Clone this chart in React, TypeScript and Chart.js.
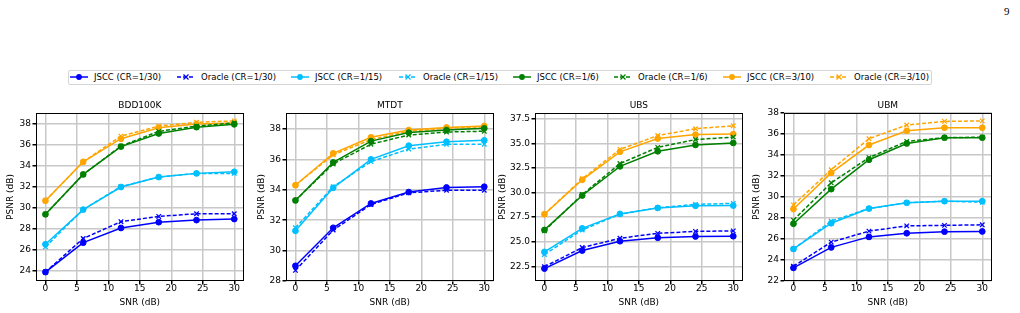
import React, { useEffect, useRef } from "react";
import { Chart, registerables } from "chart.js";
Chart.register(...registerables);

// ---------- data ----------
const snr = [0, 6, 12, 18, 24, 30];
const xTicks = [0, 5, 10, 15, 20, 25, 30];

const seriesLabels = [
  "JSCC (CR=1/30)",
  "Oracle (CR=1/30)",
  "JSCC (CR=1/15)",
  "Oracle (CR=1/15)",
  "JSCC (CR=1/6)",
  "Oracle (CR=1/6)",
  "JSCC (CR=3/10)",
  "Oracle (CR=3/10)",
];
const seriesColors = ["#0000ff", "#0000ff", "#00bfff", "#00bfff", "#008000", "#008000", "#ffa500", "#ffa500"];
const seriesIsOracle = [false, true, false, true, false, true, false, true];

// BDD100K
const bddJscc30 = [23.9, 26.7, 28.1, 28.65, 28.85, 28.95];
const bddOracle30 = [23.9, 27.1, 28.7, 29.2, 29.45, 29.45];
const bddJscc15 = [26.55, 29.85, 32.0, 32.95, 33.3, 33.45];
const bddOracle15 = [26.3, 29.85, 32.05, 32.95, 33.3, 33.3];
const bddJscc6 = [29.4, 33.2, 35.85, 37.1, 37.7, 37.97];
const bddOracle6 = [29.4, 33.2, 35.9, 37.3, 37.8, 38.1];
const bddJscc310 = [30.7, 34.4, 36.6, 37.65, 38.0, 38.1];
const bddOracle310 = [30.7, 34.4, 36.85, 37.8, 38.16, 38.3];

// MTDT
const mtdtJscc30 = [29.0, 31.5, 33.1, 33.85, 34.15, 34.2];
const mtdtOracle30 = [28.7, 31.35, 33.03, 33.8, 33.97, 33.97];
const mtdtJscc15 = [31.3, 34.13, 36.0, 36.9, 37.16, 37.25];
const mtdtOracle15 = [31.5, 34.2, 35.85, 36.68, 36.99, 37.0];
const mtdtJscc6 = [33.3, 35.8, 37.2, 37.76, 37.93, 38.04];
const mtdtOracle6 = [33.3, 35.7, 37.0, 37.6, 37.8, 37.85];
const mtdtJscc310 = [34.3, 36.4, 37.45, 37.93, 38.1, 38.2];
const mtdtOracle310 = [34.3, 36.3, 37.3, 37.85, 38.05, 38.15];

// UBS
const ubsJscc30 = [22.26, 24.1, 25.05, 25.4, 25.53, 25.56];
const ubsOracle30 = [22.45, 24.4, 25.35, 25.85, 26.05, 26.1];
const ubsJscc15 = [23.96, 26.36, 27.83, 28.44, 28.65, 28.68];
const ubsOracle15 = [23.7, 26.2, 27.8, 28.45, 28.8, 28.9];
const ubsJscc6 = [26.2, 29.7, 32.67, 34.2, 34.85, 35.05];
const ubsOracle6 = [26.1, 29.8, 32.95, 34.6, 35.4, 35.65];
const ubsJscc310 = [27.8, 31.3, 34.15, 35.5, 35.9, 35.95];
const ubsOracle310 = [27.8, 31.4, 34.4, 35.8, 36.5, 36.8];

// UBM
const ubmJscc30 = [23.25, 25.2, 26.2, 26.55, 26.7, 26.72];
const ubmOracle30 = [23.4, 25.7, 26.75, 27.25, 27.3, 27.35];
const ubmJscc15 = [25.05, 27.5, 28.9, 29.45, 29.6, 29.6];
const ubmOracle15 = [25.05, 27.7, 28.9, 29.45, 29.6, 29.5];
const ubmJscc6 = [27.45, 30.75, 33.55, 35.1, 35.65, 35.65];
const ubmOracle6 = [27.8, 31.35, 33.75, 35.3, 35.65, 35.7];
const ubmJscc310 = [28.85, 32.3, 34.95, 36.3, 36.6, 36.6];
const ubmOracle310 = [29.25, 32.6, 35.55, 36.85, 37.2, 37.25];

const panelTitles = ["BDD100K", "MTDT", "UBS", "UBM"];
const bddYTicks = [24, 26, 28, 30, 32, 34, 36, 38];
const mtdtYTicks = [28, 30, 32, 34, 36, 38];
const ubsYTicks = [22.5, 25.0, 27.5, 30.0, 32.5, 35.0, 37.5];
const ubmYTicks = [22, 24, 26, 28, 30, 32, 34, 36, 38];

const panels = [
  {
    title: panelTitles[0],
    series: [bddJscc30, bddOracle30, bddJscc15, bddOracle15, bddJscc6, bddOracle6, bddJscc310, bddOracle310],
    yMin: 23.05, yMax: 39.05, yTicks: bddYTicks, decimals: 0,
    left: 36, titleOffset: 25,
  },
  {
    title: panelTitles[1],
    series: [mtdtJscc30, mtdtOracle30, mtdtJscc15, mtdtOracle15, mtdtJscc6, mtdtOracle6, mtdtJscc310, mtdtOracle310],
    yMin: 28, yMax: 39.05, yTicks: mtdtYTicks, decimals: 0,
    left: 286, titleOffset: 24.5,
  },
  {
    title: panelTitles[2],
    series: [ubsJscc30, ubsOracle30, ubsJscc15, ubsOracle15, ubsJscc6, ubsOracle6, ubsJscc310, ubsOracle310],
    yMin: 21.0, yMax: 38.1, yTicks: ubsYTicks, decimals: 1,
    left: 535, titleOffset: 32,
  },
  {
    title: panelTitles[3],
    series: [ubmJscc30, ubmOracle30, ubmJscc15, ubmOracle15, ubmJscc6, ubmOracle6, ubmJscc310, ubmOracle310],
    yMin: 22, yMax: 38, yTicks: ubmYTicks, decimals: 0,
    left: 784, titleOffset: 27,
  },
];

// ---------- layout constants ----------
const FONT = "'DejaVu Sans', sans-serif";
const PLOT_W = 209;
const PLOT_H = 168;
const CANVAS_TOP = 95;
const CANVAS_H = 218;
const PAD_TOP = 18;
const Y_AXIS_W = 40;
const PAD_RIGHT = 4;
const GRID_COLOR = "#c8c8c8";

const framePlugin = {
  id: "frameAndTitle",
  afterDraw(chart: any, _args: any, opts: any) {
    const { ctx, chartArea } = chart;
    ctx.save();
    ctx.strokeStyle = "#000";
    ctx.lineWidth = 1;
    ctx.strokeRect(
      Math.round(chartArea.left) + 0.5,
      Math.round(chartArea.top) + 0.5,
      Math.round(chartArea.right - chartArea.left) - 1,
      Math.round(chartArea.bottom - chartArea.top) - 1
    );
    ctx.fillStyle = "#000";
    ctx.font = `9px ${FONT}`;
    ctx.textAlign = "center";
    ctx.textBaseline = "middle";
    ctx.fillText(opts.text || "", (chartArea.left + chartArea.right) / 2, chartArea.top - 7);
    ctx.restore();
  },
};

function Panel({ panel }: { panel: any }) {
  const ref = useRef<HTMLCanvasElement | null>(null);
  useEffect(() => {
    if (!ref.current) return;
    const datasets = panel.series.map((vals: number[], i: number) => {
      const oracle = seriesIsOracle[i];
      return {
        label: seriesLabels[i],
        data: snr.map((x, k) => ({ x, y: vals[k] })),
        borderColor: seriesColors[i],
        backgroundColor: seriesColors[i],
        borderWidth: 1.5,
        borderDash: oracle ? [4, 2] : [],
        pointStyle: oracle ? "crossRot" : "circle",
        pointRadius: oracle ? 3.2 : 2.9,
        pointBorderWidth: oracle ? 1.3 : 1,
        pointBackgroundColor: seriesColors[i],
        pointBorderColor: seriesColors[i],
        tension: 0,
        fill: false,
      };
    });
    const chart = new Chart(ref.current, {
      type: "line",
      data: { datasets },
      plugins: [framePlugin],
      options: {
        animation: false,
        responsive: false,
        devicePixelRatio: 1,
        events: [],
        layout: { padding: { top: PAD_TOP, right: PAD_RIGHT, left: 0, bottom: 0 } },
        plugins: {
          legend: { display: false },
          tooltip: { enabled: false },
          title: { display: false },
          frameAndTitle: { text: panel.title },
        } as any,
        scales: {
          x: {
            type: "linear",
            min: -1.5,
            max: 31.5,
            afterBuildTicks: (s: any) => {
              s.ticks = xTicks.map((v) => ({ value: v }));
            },
            afterFit: (s: any) => {
              s.height = CANVAS_H - PAD_TOP - PLOT_H;
            },
            grid: { color: GRID_COLOR, lineWidth: 1.5, tickColor: "#000", tickLength: 3.5, drawTicks: true },
            border: { display: false },
            ticks: {
              color: "#000",
              font: { family: FONT, size: 9, lineHeight: 1 },
              padding: 0,
              maxRotation: 0,
              autoSkip: false,
              callback: (v: any) => String(v),
            },
            title: {
              display: true,
              text: "SNR (dB)",
              color: "#000",
              font: { family: FONT, size: 9, lineHeight: 1.2 },
              padding: { top: 0, bottom: 5.3 },
            },
          },
          y: {
            type: "linear",
            min: panel.yMin,
            max: panel.yMax,
            afterBuildTicks: (s: any) => {
              s.ticks = panel.yTicks.map((v: number) => ({ value: v }));
            },
            afterFit: (s: any) => {
              s.width = Y_AXIS_W;
            },
            grid: { color: GRID_COLOR, lineWidth: 1.5, tickColor: "#000", tickLength: 3.5, drawTicks: true },
            border: { display: false },
            ticks: {
              color: "#000",
              font: { family: FONT, size: 9 },
              padding: 1.5,
              autoSkip: false,
              callback: (v: any) => Number(v).toFixed(panel.decimals),
            },
            title: {
              display: true,
              text: "PSNR (dB)",
              color: "#000",
              font: { family: FONT, size: 9, lineHeight: 1.2 },
              padding: { top: Y_AXIS_W - panel.titleOffset - 5.4, bottom: 0 },
            },
          },
        },
      },
    });
    return () => chart.destroy();
  }, [panel]);
  const w = Y_AXIS_W + PLOT_W + PAD_RIGHT;
  return (
    <canvas
      ref={ref}
      width={w}
      height={CANVAS_H}
      style={{ position: "absolute", left: panel.left - Y_AXIS_W, top: CANVAS_TOP, width: w, height: CANVAS_H }}
    />
  );
}

const legendTextX = [94, 201, 315, 423, 537, 638, 747, 854];

function LegendMarker({ color, oracle }: { color: string; oracle: boolean }) {
  return (
    <svg width={20} height={10} style={{ position: "absolute", left: -1, top: 0 }}>
      <line x1={1} y1={5} x2={19} y2={5} stroke={color} strokeWidth={1.5} strokeDasharray={oracle ? "4 2" : undefined} />
      {oracle ? (
        <g stroke={color} strokeWidth={1.3}>
          <line x1={7.5} y1={2.5} x2={12.5} y2={7.5} />
          <line x1={7.5} y1={7.5} x2={12.5} y2={2.5} />
        </g>
      ) : (
        <circle cx={10} cy={5} r={2.9} fill={color} />
      )}
    </svg>
  );
}

export default function App() {
  return (
    <div style={{ position: "absolute", left: 0, top: 0, width: 1020, height: 313, background: "#fff", overflow: "hidden" }}>
      <div style={{ position: "absolute", left: 1004, top: 5, fontFamily: "'Liberation Serif', serif", fontSize: 11, color: "#000" }}>9</div>
      <div
        style={{
          position: "absolute",
          left: 68,
          top: 70,
          width: 864,
          height: 15,
          border: "1px solid #d5d5d5",
          borderRadius: 2,
          boxSizing: "border-box",
        }}
      />
      {seriesLabels.map((lab, i) => (
        <div key={lab} style={{ position: "absolute", left: legendTextX[i] - 24, top: 72 }}>
          <div style={{ position: "relative", width: 20, height: 10 }}>
            <LegendMarker color={seriesColors[i]} oracle={seriesIsOracle[i]} />
          </div>
        </div>
      ))}
      {seriesLabels.map((lab, i) => (
        <div
          key={"t" + lab}
          style={{
            position: "absolute",
            left: legendTextX[i],
            top: 71,
            fontFamily: FONT,
            fontSize: 8.5,
            lineHeight: "12px",
            color: "#000",
            whiteSpace: "nowrap",
          }}
        >
          {lab}
        </div>
      ))}
      {panels.map((p) => (
        <Panel key={p.title} panel={p} />
      ))}
    </div>
  );
}
